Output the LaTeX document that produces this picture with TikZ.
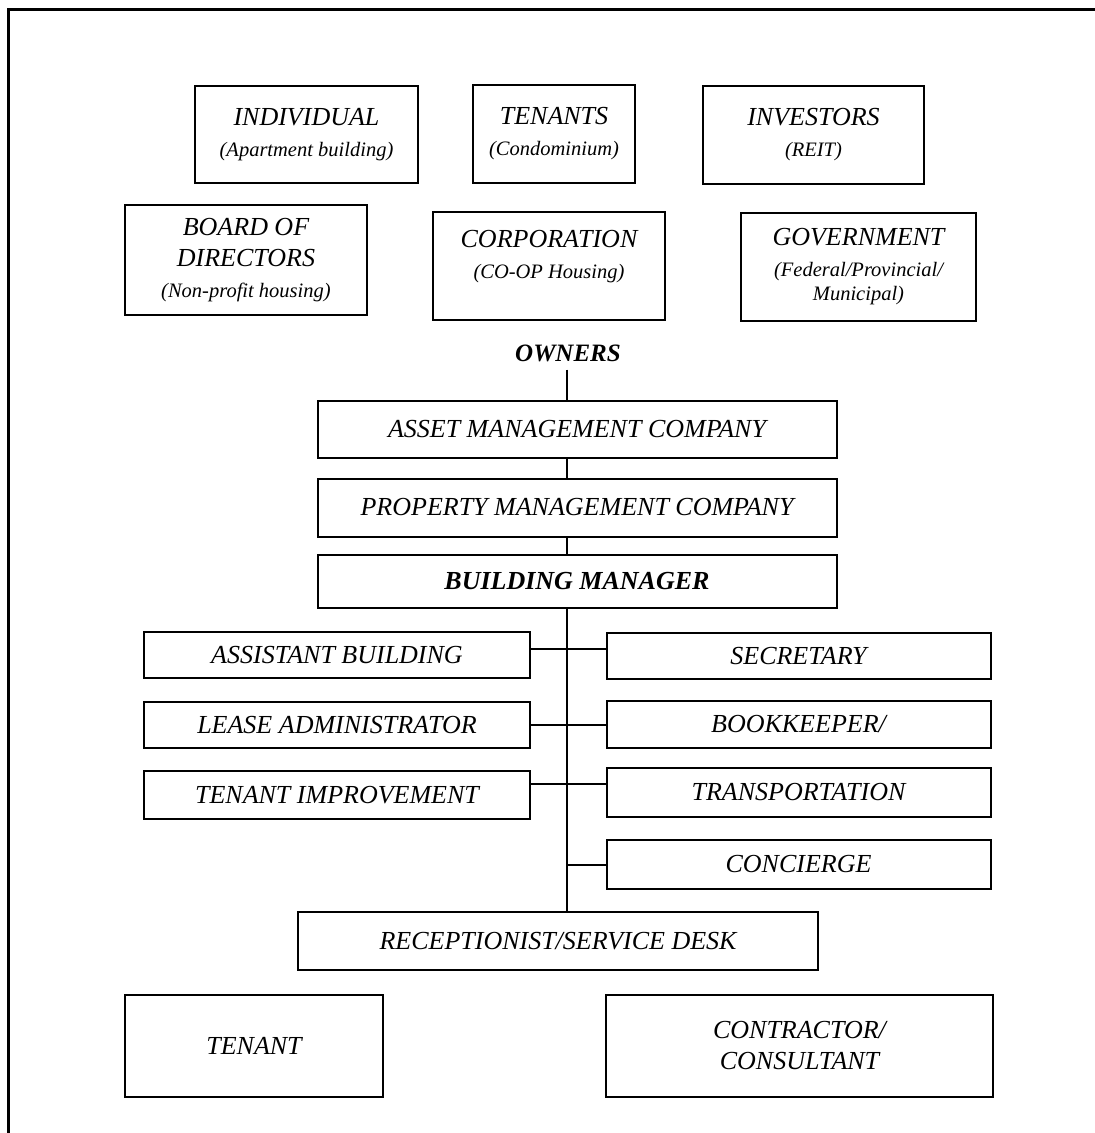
\documentclass[tikz,border=0pt]{standalone}
\usepackage{fontspec}
\setmainfont{Liberation Serif}
\newcommand{\bigtx}{\fontsize{26}{31}\selectfont\itshape}
\newcommand{\subtx}{\fontsize{20.5}{31}\selectfont\itshape}
\tikzset{
  box/.style={draw, line width=2pt, align=center, inner sep=0pt, font=\bigtx},
  conn/.style={line width=2pt},
  frameline/.style={line width=3pt}
}
\begin{document}
\begin{tikzpicture}[x=1pt,y=-1pt]
\useasboundingbox (0,0) rectangle (1095,1133);
\draw[frameline] (8,1133) -- (8,9) -- (1095,9);
% owner boxes
\node[box, minimum width=223, minimum height=97] (ind) at (306.5,134.5) {INDIVIDUAL\\{\subtx (Apartment building)}};
\node[box, minimum width=162, minimum height=98] (ten) at (554,134) {TENANTS\\{\subtx (Condominium)}};
\node[box, minimum width=221, minimum height=98] (inv) at (813.5,135) {INVESTORS\\{\subtx (REIT)}};
\node[box, minimum width=242, minimum height=110] (bod) at (246,260) {BOARD OF\\DIRECTORS\\{\subtx (Non-profit housing)}};
\node[box, minimum width=232, minimum height=108] (cor) at (549,266) {CORPORATION\\{\subtx (CO-OP Housing)}\\[-8pt]\phantom{x}};
\node[box, minimum width=235, minimum height=108] (gov) at (858.5,267) {GOVERNMENT\\{\subtx (Federal/Provincial/}\\[-7pt]{\subtx Municipal)}};
\node[font=\fontsize{25}{30}\selectfont\bfseries\itshape, inner sep=0pt] (own) at (568,353) {OWNERS};
\coordinate (tx) at (567,0);
% management chain
\node[box, minimum width=519, minimum height=57] (am) at (577,429.5) {ASSET MANAGEMENT COMPANY};
\node[box, minimum width=519, minimum height=58] (pm) at (577,507.5) {PROPERTY MANAGEMENT COMPANY};
\node[box, minimum width=519, minimum height=53, font=\bigtx\bfseries] (bm) at (577,581.5) {BUILDING MANAGER};
% staff
\node[box, minimum width=386, minimum height=46] (asb) at (337,655) {ASSISTANT BUILDING};
\node[box, minimum width=384, minimum height=46] (sec) at (798.5,656) {SECRETARY};
\node[box, minimum width=386, minimum height=46] (lea) at (337,725) {LEASE ADMINISTRATOR};
\node[box, minimum width=384, minimum height=47] (bkp) at (798.5,724.5) {BOOKKEEPER/};
\node[box, minimum width=386, minimum height=48] (tim) at (337,795) {TENANT IMPROVEMENT};
\node[box, minimum width=384, minimum height=49] (tra) at (798.5,792.5) {TRANSPORTATION};
\node[box, minimum width=384, minimum height=49] (con) at (798.5,864.5) {CONCIERGE};
\node[box, minimum width=520, minimum height=58] (rec) at (558,941) {RECEPTIONIST/SERVICE DESK};
\node[box, minimum width=258, minimum height=102] (tnt) at (254,1046) {\raisebox{-10pt}{TENANT}};
\node[box, minimum width=387, minimum height=102] (ctr) at (799.5,1046) {CONTRACTOR/\\CONSULTANT};
% connectors
\draw[conn] (own.south -| tx) ++(0,8) -- (am.north -| tx);
\draw[conn] (am.south -| tx) -- (pm.north -| tx);
\draw[conn] (pm.south -| tx) -- (bm.north -| tx);
\draw[conn] (bm.south -| tx) -- (rec.north -| tx);
\draw[conn] ([yshift=6pt]asb.east) -- ([yshift=6pt]asb.east -| sec.west);
\draw[conn] (lea.east) -- (lea.east -| bkp.west);
\draw[conn] ([yshift=11pt]tim.east) -- ([yshift=11pt]tim.east -| tra.west);
\draw[conn] (tx |- con.west) -- (con.west);
\end{tikzpicture}
\end{document}
